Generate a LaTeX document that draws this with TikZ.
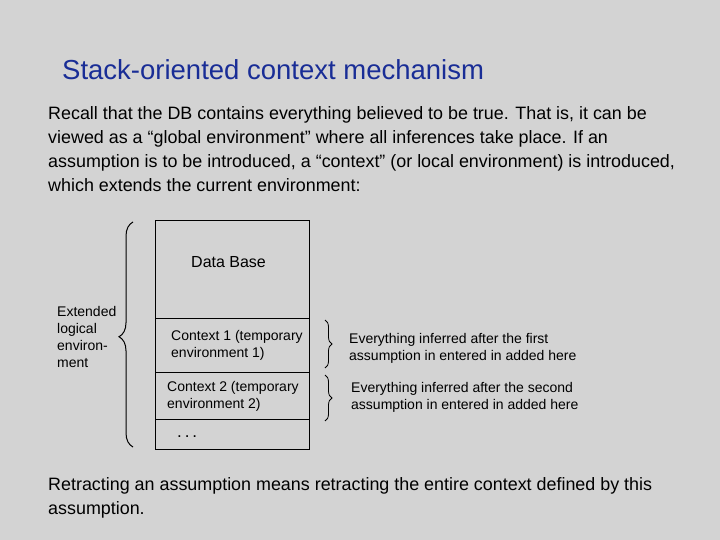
\documentclass[tikz,border=0pt]{standalone}
\usepackage{fontspec}
\setmainfont{Liberation Sans}
\usetikzlibrary{decorations.pathreplacing}
\definecolor{bg}{RGB}{211,211,211}
\definecolor{titleblue}{RGB}{25,45,150}
\begin{document}
\begin{tikzpicture}[x=1pt,y=-1pt,
  body/.style={anchor=west,inner sep=0pt,font=\fontsize{17.9}{24}\selectfont,align=left},
  small/.style={anchor=west,inner sep=0pt,font=\fontsize{14}{17}\selectfont,align=left},
  brc/.style={decorate,decoration={brace,amplitude=7pt},line width=0.8pt}]
\fill[bg] (0,0) rectangle (720,540);
\useasboundingbox (0,0) rectangle (720,540);
\node[anchor=west,inner sep=0pt,text=titleblue,font=\fontsize{27.5}{30}\selectfont] (title) at (62,70) {Stack-oriented context mechanism};
\node[body,anchor=north west] (intro) at (48,106) {Recall that the DB contains everything believed to be true. That is, it can be\\viewed as a “global environment” where all inferences take place. If an\\assumption is to be introduced, a “context” (or local environment) is introduced,\\which extends the current environment:};
\draw[line width=0.8pt] (155,220) rectangle (309,449);
\draw (155,318) -- (309,318);
\draw (155,372) -- (309,372);
\draw (155,419) -- (309,419);
\node[small,font=\fontsize{16}{18}\selectfont] (db) at (191,262) {Data Base};
\node[small] (c1) at (171,345) {Context 1 (temporary\\environment 1)};
\node[small] (c2) at (167,396) {Context 2 (temporary\\environment 2)};
\node[small,font=\fontsize{17}{18}\selectfont] (dots) at (177,437) {.\,.\,.};
\draw[brc,line width=1pt,decoration={amplitude=14pt,aspect=0.49}] (133,447) -- (133,222);
\node[small] (ext) at (57,337) {Extended\\logical\\environ-\\ment};
\draw[brc,decoration={amplitude=7pt}] (325,320) -- (325,368);
\draw[brc,decoration={amplitude=7pt}] (325,375) -- (325,421);
\node[small] (e1) at (349,348) {Everything inferred after the first\\assumption in entered in added here};
\node[small] (e2) at (351,397) {Everything inferred after the second\\assumption in entered in added here};
\node[body,anchor=north west] (outro) at (48,477) {Retracting an assumption means retracting the entire context defined by this\\assumption.};
\end{tikzpicture}
\end{document}
